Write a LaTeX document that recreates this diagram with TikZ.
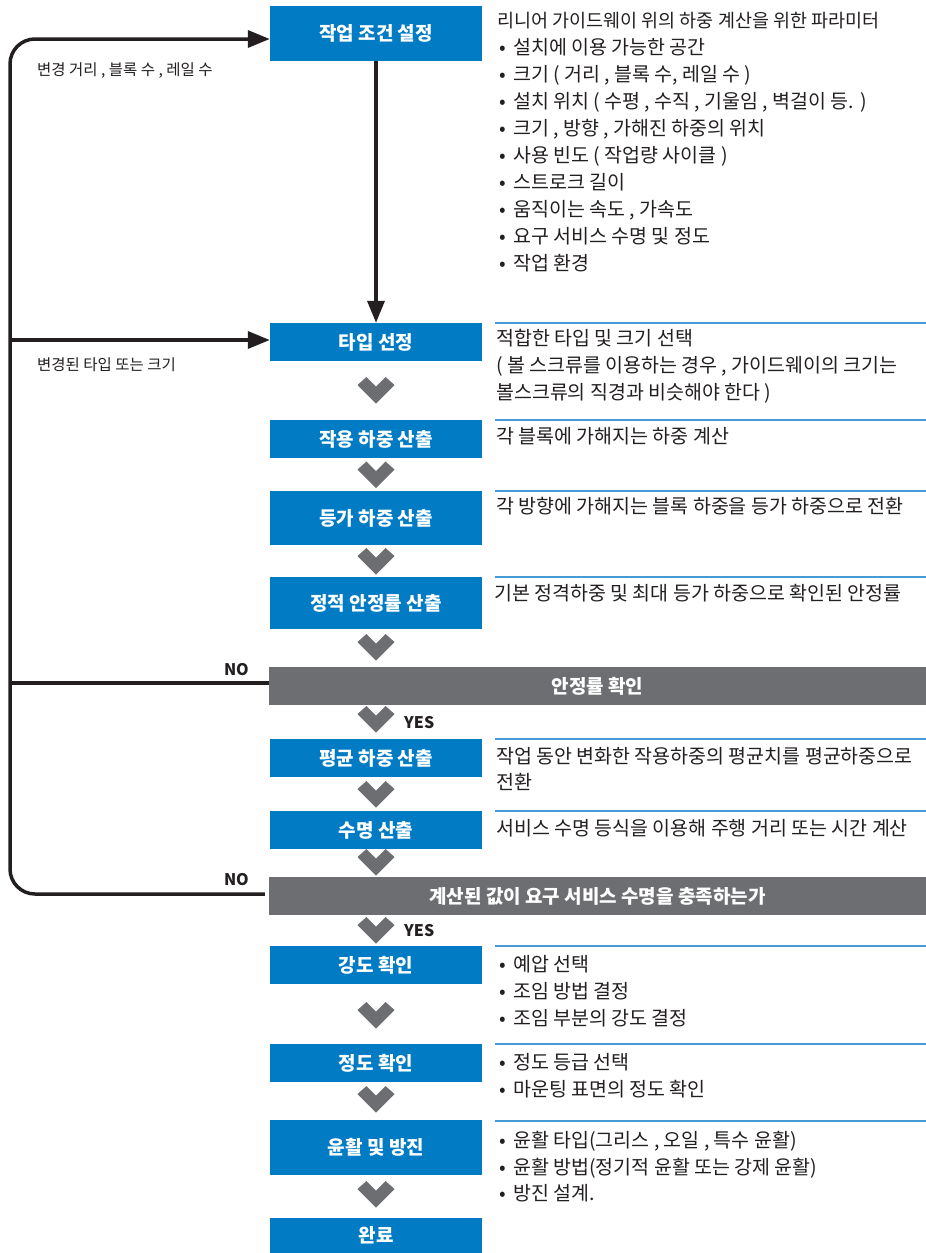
\documentclass[tikz,border=0pt]{standalone}
\usepackage{fontspec}
\setmainfont{Noto Sans CJK KR}
\usetikzlibrary{arrows.meta}
\definecolor{boxblue}{RGB}{0,123,196}
\definecolor{rulblue}{RGB}{70,155,215}
\definecolor{bargray}{RGB}{109,110,113}
\definecolor{ink}{RGB}{35,31,32}
\newcommand\mybul{\hbox to 0pt{\hss\textbullet\hss}\hspace{10pt}}
\begin{document}
\begin{tikzpicture}[x=1pt,y=-1pt,
  bluebox/.style={fill=boxblue, text=white, font=\fontsize{19}{22}\selectfont\bfseries, minimum width=212pt, inner sep=0pt, anchor=center},
  graybar/.style={fill=bargray, text=white, font=\fontsize{19}{22}\selectfont\bfseries, minimum width=657pt, minimum height=38pt, inner sep=0pt},
  desc/.style={anchor=base west, inner sep=0pt, text=ink, font=\fontsize{19.5}{23}\selectfont},
  desctop/.style={desc, font=\fontsize{18.5}{22}\selectfont},
  side/.style={anchor=base west, inner sep=0pt, text=ink, font=\fontsize{15.5}{18}\selectfont},
  yn/.style={inner sep=0pt, text=ink, font=\fontsize{16}{19}\selectfont\bfseries},
  flow/.style={draw=ink, line width=3.5pt},
  flowarrow/.style={flow, -{Triangle[length=22pt,width=17pt]}},
  sep/.style={draw=rulblue, line width=1.4pt},
  chev/.pic={\fill[bargray] (-18.5,8) -- (-9.5,0) -- (0,9.5) -- (9.5,0) -- (18.5,8) -- (0,26.5) -- cycle;}
]
\fill[white] (0,0) rectangle (926,1253);
\useasboundingbox (0,0) rectangle (926,1253);

% boxes
\node[bluebox, minimum height=55pt] (b1) at (376,33.5) {작업 조건 설정};
\node[bluebox, minimum height=38pt] (b2) at (376,342) {타입 선정};
\node[bluebox, minimum height=38pt] (b3) at (376,439) {작용 하중 산출};
\node[bluebox, minimum height=54pt] (b4) at (376,518) {등가 하중 산출};
\node[bluebox, minimum height=52pt] (b5) at (376,603) {정적 안정률 산출};
\node[graybar] (g1) at (597.5,686) {안정률 확인};
\node[bluebox, minimum height=38pt] (b6) at (376,758) {평균 하중 산출};
\node[bluebox, minimum height=38pt] (b7) at (376,830) {수명 산출};
\node[graybar] (g2) at (597.5,896) {계산된 값이 요구 서비스 수명을 충족하는가};
\node[bluebox, minimum height=38pt] (b8) at (376,965) {강도 확인};
\node[bluebox, minimum height=38pt] (b9) at (376,1063) {정도 확인};
\node[bluebox, minimum height=55pt] (b10) at (376,1147.5) {윤활 및 방진};
\node[bluebox, minimum height=35pt] (b11) at (376,1235.5) {완료};

% chevrons
\foreach \t in {377,461.5,548,634,706,781,849,917,1002,1086,1181}
  \pic at (376,\t) {chev};

% YES / NO
\node[yn, anchor=base west] (yes1) at (404,728) {YES};
\node[yn, anchor=base west] (yes2) at (404,936) {YES};
\node[yn, anchor=base east] (no1) at (249,675) {NO};
\node[yn, anchor=base east] (no2) at (249,885) {NO};

% connectors
\coordinate (cbl) at (10,894);
\coordinate (ctl) at (10,39);
\coordinate (cmid) at (10,340);
\coordinate (cno1) at (10,683);
\draw[flowarrow, rounded corners=25pt] ([xshift=-4pt,yshift=2pt]g2.west) -- (cbl) -- (ctl) -- ([yshift=-5.5pt]b1.west);
\draw[flowarrow] (cmid) -- ([yshift=2pt]b2.west);
\draw[flow] ([yshift=3pt]g1.west) -- (cno1);
\draw[flowarrow] (b1.south) -- (b2.north);

% side labels
\node[side] (s1) at (37,75.5) {변경 거리 , 블록 수 , 레일 수};
\node[side] (s2) at (37,370.5) {변경된 타입 또는 크기};

% separator rules
\foreach \r in {323,420,491,577,739,811,946,1044,1121}
  \draw[sep] (495,\r) -- (926,\r);

% description texts
\node[desctop] (d1) at (497,27) {리니어 가이드웨이 위의 하중 계산을 위한 파라미터};
\node[desc] (d2) at (503,54) {\mybul 설치에 이용 가능한 공간};
\node[desc] (d3) at (503,81) {\mybul 크기 ( 거리 , 블록 수, 레일 수 )};
\node[desc] (d4) at (503,108) {\mybul 설치 위치 ( 수평 , 수직 , 기울임 , 벽걸이 등. )};
\node[desc] (d5) at (503,135) {\mybul 크기 , 방향 , 가해진 하중의 위치};
\node[desc] (d6) at (503,162) {\mybul 사용 빈도 ( 작업량 사이클 )};
\node[desc] (d7) at (503,189) {\mybul 스트로크 길이};
\node[desc] (d8) at (503,216) {\mybul 움직이는 속도 , 가속도};
\node[desc] (d9) at (503,243) {\mybul 요구 서비스 수명 및 정도};
\node[desc] (d10) at (503,270) {\mybul 작업 환경};

\node[desc] (e1) at (496,345) {적합한 타입 및 크기 선택};
\node[desc] (e2) at (496,372) {( 볼 스크류를 이용하는 경우 , 가이드웨이의 크기는};
\node[desc] (e3) at (496,399) {볼스크류의 직경과 비슷해야 한다 )};

\node[desc] (f1) at (496,443) {각 블록에 가해지는 하중 계산};
\node[desc] (f2) at (496,513) {각 방향에 가해지는 블록 하중을 등가 하중으로 전환};
\node[desc] (f3) at (494,600) {기본 정격하중 및 최대 등가 하중으로 확인된 안정률};

\node[desc] (h1) at (496,763) {작업 동안 변화한 작용하중의 평균치를 평균하중으로};
\node[desc] (h2) at (496,789) {전환};
\node[desc] (h3) at (496,835) {서비스 수명 등식을 이용해 주행 거리 또는 시간 계산};

\node[desc] (k1) at (503,971.5) {\mybul 예압 선택};
\node[desc] (k2) at (503,998) {\mybul 조임 방법 결정};
\node[desc] (k3) at (503,1025) {\mybul 조임 부분의 강도 결정};
\node[desc] (k4) at (503,1069) {\mybul 정도 등급 선택};
\node[desc] (k5) at (503,1096) {\mybul 마운팅 표면의 정도 확인};
\node[desc] (k6) at (503,1147) {\mybul 윤활 타입(그리스 , 오일 , 특수 윤활)};
\node[desc] (k7) at (503,1174) {\mybul 윤활 방법(정기적 윤활 또는 강제 윤활)};
\node[desc] (k8) at (503,1200) {\mybul 방진 설계.};
\end{tikzpicture}
\end{document}
